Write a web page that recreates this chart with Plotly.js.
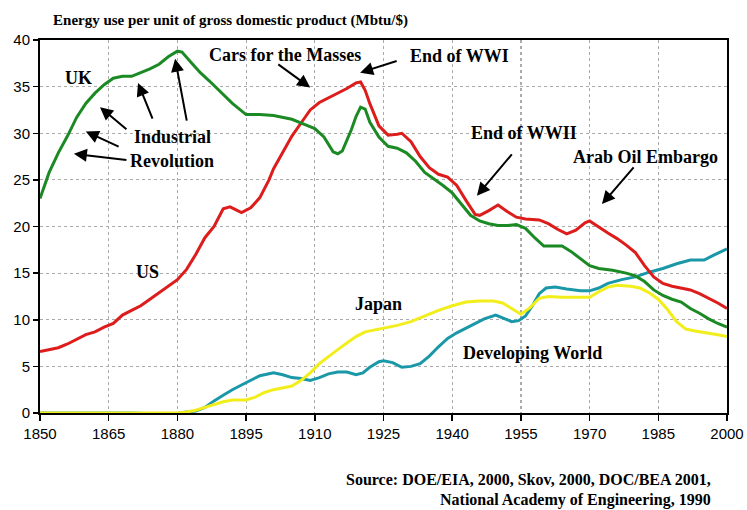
<!DOCTYPE html>
<html>
<head>
<meta charset="utf-8">
<script src="https://cdn.plot.ly/plotly-3.0.1.min.js"></script>
<style>html,body{margin:0;padding:0;background:#fff;}#chart{width:747px;height:510px;}</style>
</head>
<body>
<div id="chart"></div>
<script>
const ukYears = [1850,1852,1854,1856,1858,1860,1862,1864,1866,1868,1870,1872,1874,1876,1878,1880,1881,1883,1885,1887,1889,1892,1895,1898,1901,1905,1908,1910,1912,1914,1915,1916,1918,1919,1920,1921,1922,1924,1926,1928,1930,1932,1934,1936,1938,1940,1942,1944,1946,1948,1950,1952,1954,1956,1958,1960,1962,1964,1966,1968,1970,1972,1975,1978,1980,1982,1984,1986,1988,1990,1992,1994,1996,1998,2000];
const ukValues = [23.0,25.8,27.9,29.7,31.7,33.2,34.3,35.2,35.9,36.1,36.1,36.5,36.9,37.4,38.2,38.8,38.7,37.6,36.5,35.6,34.6,33.2,32.0,32.0,31.9,31.5,30.9,30.5,29.6,28.0,27.8,28.1,30.4,31.8,32.8,32.6,31.2,29.6,28.6,28.4,27.9,27.0,25.8,25.1,24.4,23.6,22.4,21.2,20.6,20.3,20.1,20.1,20.2,19.8,18.8,17.9,17.9,17.9,17.3,16.5,15.8,15.5,15.3,15.0,14.7,14.1,13.2,12.6,12.2,11.9,11.2,10.7,10.1,9.6,9.2];

const usYears = [1850,1852,1854,1856,1858,1860,1862,1864,1866,1868,1870,1872,1874,1876,1878,1880,1882,1884,1886,1888,1890,1891.5,1894,1896,1898,1900,1901,1903,1905,1907,1909,1911,1913,1915,1917,1919,1920,1921,1922,1924,1926,1928,1929,1931,1933,1935,1937,1939,1941,1943,1945,1946,1948,1950,1952,1954,1956,1959,1961,1963,1965,1967,1969,1970,1972,1974,1976,1978,1980,1982,1984,1986,1988,1990,1992,1994,1996,1998,2000];
const usValues = [6.6,6.8,7.0,7.4,7.9,8.4,8.7,9.2,9.6,10.5,11.0,11.5,12.2,12.9,13.6,14.3,15.4,17.0,18.8,20.0,21.9,22.1,21.5,22.0,23.1,25.0,26.2,28.0,29.7,31.1,32.5,33.3,33.8,34.3,34.8,35.4,35.5,34.6,33.2,30.8,29.8,29.9,30.0,29.1,27.5,26.3,25.6,25.3,24.4,22.8,21.3,21.2,21.7,22.3,21.6,21.0,20.8,20.7,20.3,19.7,19.2,19.6,20.4,20.6,19.9,19.3,18.7,18.0,17.2,15.8,14.6,13.9,13.6,13.4,13.2,12.8,12.3,11.8,11.2];

const jpYears = [1850,1870,1880,1882,1884,1886,1888,1890,1892,1895,1897,1899,1901,1903,1905,1907,1909,1911,1913,1915,1917,1919,1921,1923,1925,1928,1931,1934,1937,1940,1943,1946,1949,1951,1953,1955,1957,1959,1961,1964,1967,1970,1972,1974,1976,1979,1981,1983,1985,1987,1989,1991,1993,1996,1998,2000];
const jpValues = [0,0,0,0.1,0.3,0.6,0.9,1.2,1.4,1.4,1.7,2.2,2.5,2.7,2.9,3.5,4.3,5.3,6.1,6.8,7.5,8.2,8.7,8.9,9.1,9.4,9.8,10.4,11.0,11.5,11.9,12.0,12.0,11.8,11.2,10.6,11.3,12.3,12.5,12.4,12.4,12.4,13.0,13.5,13.7,13.6,13.4,12.9,12.2,11.1,9.8,9.0,8.8,8.6,8.4,8.2];

const dwYears = [1850,1860,1870,1876,1877.5,1879,1880.5,1882,1884,1886,1888,1890,1892,1894,1896,1898,1900,1901,1903,1905,1907,1909,1911,1913,1915,1917,1919,1920.5,1922,1924,1925,1927,1929,1931,1933,1935,1937,1939,1941,1943,1945,1947,1949.5,1951,1953,1954.5,1956,1957.5,1959,1960.5,1962.5,1965,1968,1970,1972,1974,1977,1980,1983,1986,1989,1992,1995,1997,2000];
const dwValues = [0,0,0,-0.1,-0.3,-0.3,0,0.1,0.2,0.6,1.3,1.9,2.5,3.0,3.5,4.0,4.2,4.3,4.1,3.8,3.7,3.5,3.8,4.2,4.4,4.4,4.1,4.3,4.9,5.5,5.6,5.4,4.9,5.0,5.3,6.1,7.1,8.0,8.6,9.1,9.6,10.1,10.5,10.2,9.8,9.9,10.4,11.5,12.8,13.4,13.5,13.3,13.1,13.1,13.4,13.9,14.3,14.6,15.1,15.5,16.0,16.4,16.4,16.9,17.6];

const xTicks = [1850,1865,1880,1895,1910,1925,1940,1955,1970,1985,2000];
const yTicks = [0,5,10,15,20,25,30,35,40];

const serif = 'Liberation Serif, Times New Roman, serif';
const sans = 'Liberation Sans, Arial, sans-serif';

function tr(x, y, color) {
  return {x: x, y: y, type: 'scatter', mode: 'lines', line: {color: color, width: 3}, hoverinfo: 'skip', showlegend: false};
}
const data = [
  tr(dwYears, dwValues, '#1b98a8'),
  tr(jpYears, jpValues, '#f2ee1c'),
  tr(usYears, usValues, '#dd1c1c'),
  tr(ukYears, ukValues, '#1c8a24')
];

function label(text, x, y) {
  return {text: '<b>' + text + '</b>', x: x, y: y, xref: 'x', yref: 'y', showarrow: false,
    font: {family: serif, size: 18, color: '#000'}};
}
function arrow(hx, hy, tx, ty) {
  return {text: '', x: hx, y: hy, ax: tx, ay: ty, xref: 'x', yref: 'y', axref: 'x', ayref: 'y',
    showarrow: true, arrowhead: 2, arrowsize: 1.3, arrowwidth: 2, arrowcolor: '#000', standoff: 0, startstandoff: 0};
}

const annotations = [
  label('UK', 1858.3, 35.9),
  label('Industrial', 1879.0, 29.6),
  label('Revolution', 1878.8, 27.0),
  label('Cars for the Masses', 1903.5, 38.4),
  label('End of WWI', 1941.5, 38.3),
  label('End of WWII', 1955.7, 30.0),
  label('Arab Oil Embargo', 1982.1, 27.5),
  label('US', 1873.4, 15.1),
  label('Japan', 1923.8, 11.7),
  label('Developing World', 1957.6, 6.4),
  arrow(1863.1, 32.8, 1869.2, 30.3),
  arrow(1860.0, 30.2, 1867.5, 28.5),
  arrow(1857.4, 27.8, 1869.2, 27.1),
  arrow(1871.4, 35.4, 1874.7, 31.4),
  arrow(1879.5, 38.0, 1882.1, 31.2),
  arrow(1909.0, 34.9, 1901.7, 37.5),
  arrow(1919.9, 36.5, 1928.2, 37.8),
  arrow(1945.4, 23.3, 1953.3, 27.9),
  arrow(1972.7, 22.4, 1979.9, 26.5),
  {text: '<b>Source: DOE/EIA, 2000, Skov, 2000, DOC/BEA 2001,</b>', xref: 'paper', yref: 'paper', x: 0.98, y: -0.179,
    xanchor: 'right', yanchor: 'middle', showarrow: false, font: {family: serif, size: 16, color: '#000'}},
  {text: '<b>National Academy of Engineering, 1990</b>', xref: 'paper', yref: 'paper', x: 0.98, y: -0.232,
    xanchor: 'right', yanchor: 'middle', showarrow: false, font: {family: serif, size: 16, color: '#000'}}
];

const layout = {
  width: 747, height: 510,
  margin: {l: 40, r: 20, t: 40, b: 97},
  paper_bgcolor: '#fff', plot_bgcolor: '#fff',
  title: {text: '<b>Energy use per unit of gross domestic product (Mbtu/$)</b>', x: 0.071, xanchor: 'left',
    y: 0.961, yanchor: 'middle', xref: 'container', yref: 'container', font: {family: serif, size: 15, color: '#000'}},
  xaxis: {range: [1850, 2000], tickvals: xTicks, ticktext: xTicks.map(String), ticks: 'outside', ticklen: 6, tickwidth: 1.5,
    tickcolor: '#000', showgrid: true, gridcolor: '#aaa', griddash: 'dot', gridwidth: 1.2,
    showline: true, linecolor: '#000', linewidth: 2, mirror: true, zeroline: false,
    tickfont: {family: sans, size: 15, color: '#000'}, fixedrange: true},
  yaxis: {range: [0, 40], tickvals: yTicks, ticks: 'outside', ticklen: 5, tickwidth: 1.5, tickcolor: '#000',
    showgrid: true, gridcolor: '#aaa', griddash: 'dot', gridwidth: 1.2,
    showline: true, linecolor: '#000', linewidth: 2, mirror: true, zeroline: false,
    tickfont: {family: sans, size: 15, color: '#000'}, fixedrange: true},
  annotations: annotations
};

Plotly.newPlot('chart', data, layout, {displayModeBar: false, staticPlot: true});
</script>
</body>
</html>
